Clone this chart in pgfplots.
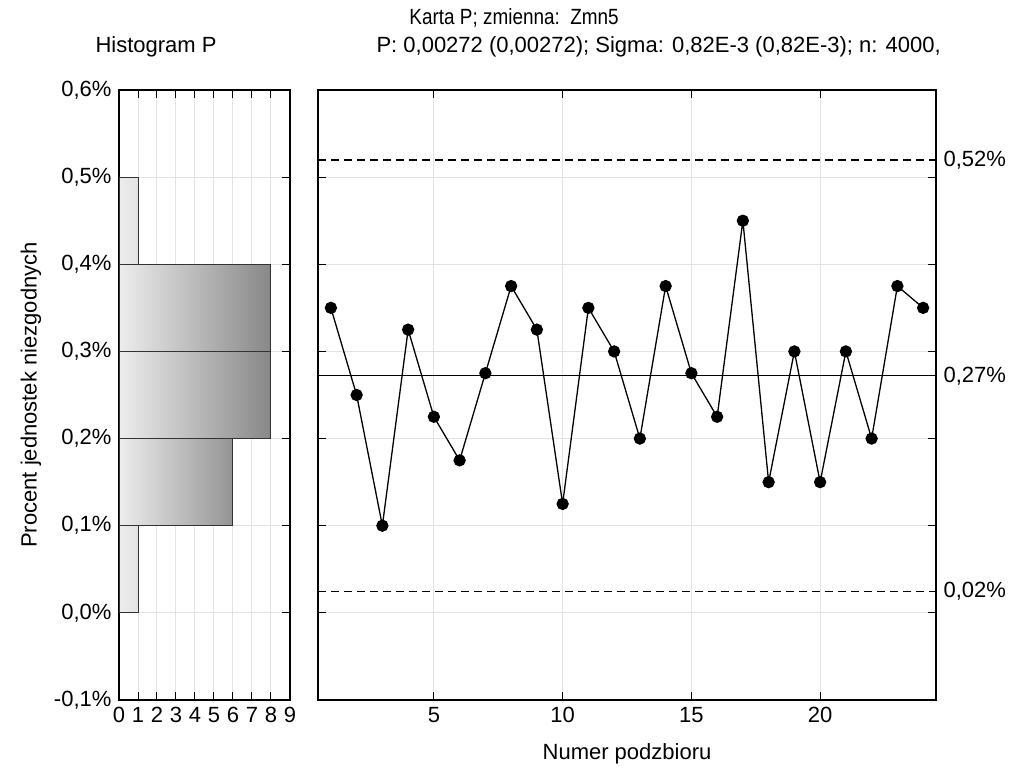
\documentclass[border=0pt]{standalone}
\usepackage{fontspec}
\setmainfont{Liberation Sans}
\usepackage{pgfplots}
\pgfplotsset{compat=1.18}

\pgfplotsset{
  cc/.style={
    scale only axis,
    height=610pt,
    ymin=-0.1, ymax=0.6,
    ytick={-0.1,0,0.1,0.2,0.3,0.4,0.5,0.6},
    tick align=inside,
    major tick length=8pt,
    grid=major,
    grid style={gray!22, line width=1pt},
    axis line style={line width=1.4pt},
    tick style={line width=1pt, black},
    font=\fontsize{22}{26}\selectfont,
    /pgf/number format/assume math mode=true,
    anchor=south west,
  },
  hbar/.style={draw=gray!40!black, line width=1pt, left color=black!7},
}

\begin{document}
\fontsize{22}{26}\selectfont
\begin{tikzpicture}[x=1pt,y=1pt]
\useasboundingbox (0,0) rectangle (1016,775);

% histogram
\begin{axis}[cc,
    at={(119pt,75pt)},
    width=171pt,
    xmin=0, xmax=9,
    xtick={0,1,2,3,4,5,6,7,8,9},
    yticklabel={\pgfmathprintnumber[fixed,fixed zerofill,precision=1,use comma]{\tick}\%},
    ylabel={Procent jednostek niezgodnych},
    ylabel style={yshift=-2pt},
]
\addplot[hbar, right color=black!11] coordinates {(0,0.0) (1,0.0) (1,0.1) (0,0.1)} -- cycle;
\addplot[hbar, right color=black!42] coordinates {(0,0.1) (6,0.1) (6,0.2) (0,0.2)} -- cycle;
\addplot[hbar, right color=black!47] coordinates {(0,0.2) (8,0.2) (8,0.3) (0,0.3)} -- cycle;
\addplot[hbar, right color=black!47] coordinates {(0,0.3) (8,0.3) (8,0.4) (0,0.4)} -- cycle;
\addplot[hbar, right color=black!11] coordinates {(0,0.4) (1,0.4) (1,0.5) (0,0.5)} -- cycle;
\end{axis}

% control chart
\begin{axis}[cc,
    at={(318pt,75pt)},
    width=618pt,
    xmin=0.5, xmax=24.5,
    xtick={5,10,15,20},
    yticklabel pos=right,
    yticklabels={,,,,,,,},
    extra y ticks={0.5195,0.272,0.0245},
    extra y tick labels={{0,52\%},{0,27\%},{0,02\%}},
    extra y tick style={grid=none, major tick length=0pt},
    xlabel={Numer podzbioru},
    xlabel style={yshift=-6pt},
]
\addplot[black, line width=1.3pt, dash pattern=on 8pt off 5pt] coordinates {(0.5,0.5195) (24.5,0.5195)};
\addplot[black, line width=1.3pt] coordinates {(0.5,0.272) (24.5,0.272)};
\addplot[black, line width=1.3pt, dash pattern=on 8pt off 5pt] coordinates {(0.5,0.0245) (24.5,0.0245)};
\addplot[black, line width=1.3pt, mark=*, mark size=5.5pt, mark options={fill=black, solid}] coordinates {
(1,0.35) (2,0.25) (3,0.10) (4,0.325) (5,0.225) (6,0.175) (7,0.275) (8,0.375)
(9,0.325) (10,0.125) (11,0.35) (12,0.30) (13,0.20) (14,0.375) (15,0.275) (16,0.225)
(17,0.45) (18,0.15) (19,0.30) (20,0.15) (21,0.30) (22,0.20) (23,0.375) (24,0.35)
};
\end{axis}

\node[anchor=west, xscale=0.86, transform shape] at (403,757) {Karta P; zmienna:\ \ Zmn5};
\node[anchor=west] at (88,728) {Histogram P};
\node[anchor=west] at (369,728) {P: 0,00272 (0,00272); Sigma: 0,82E-3 (0,82E-3); n: 4000,};
\end{tikzpicture}
\end{document}
